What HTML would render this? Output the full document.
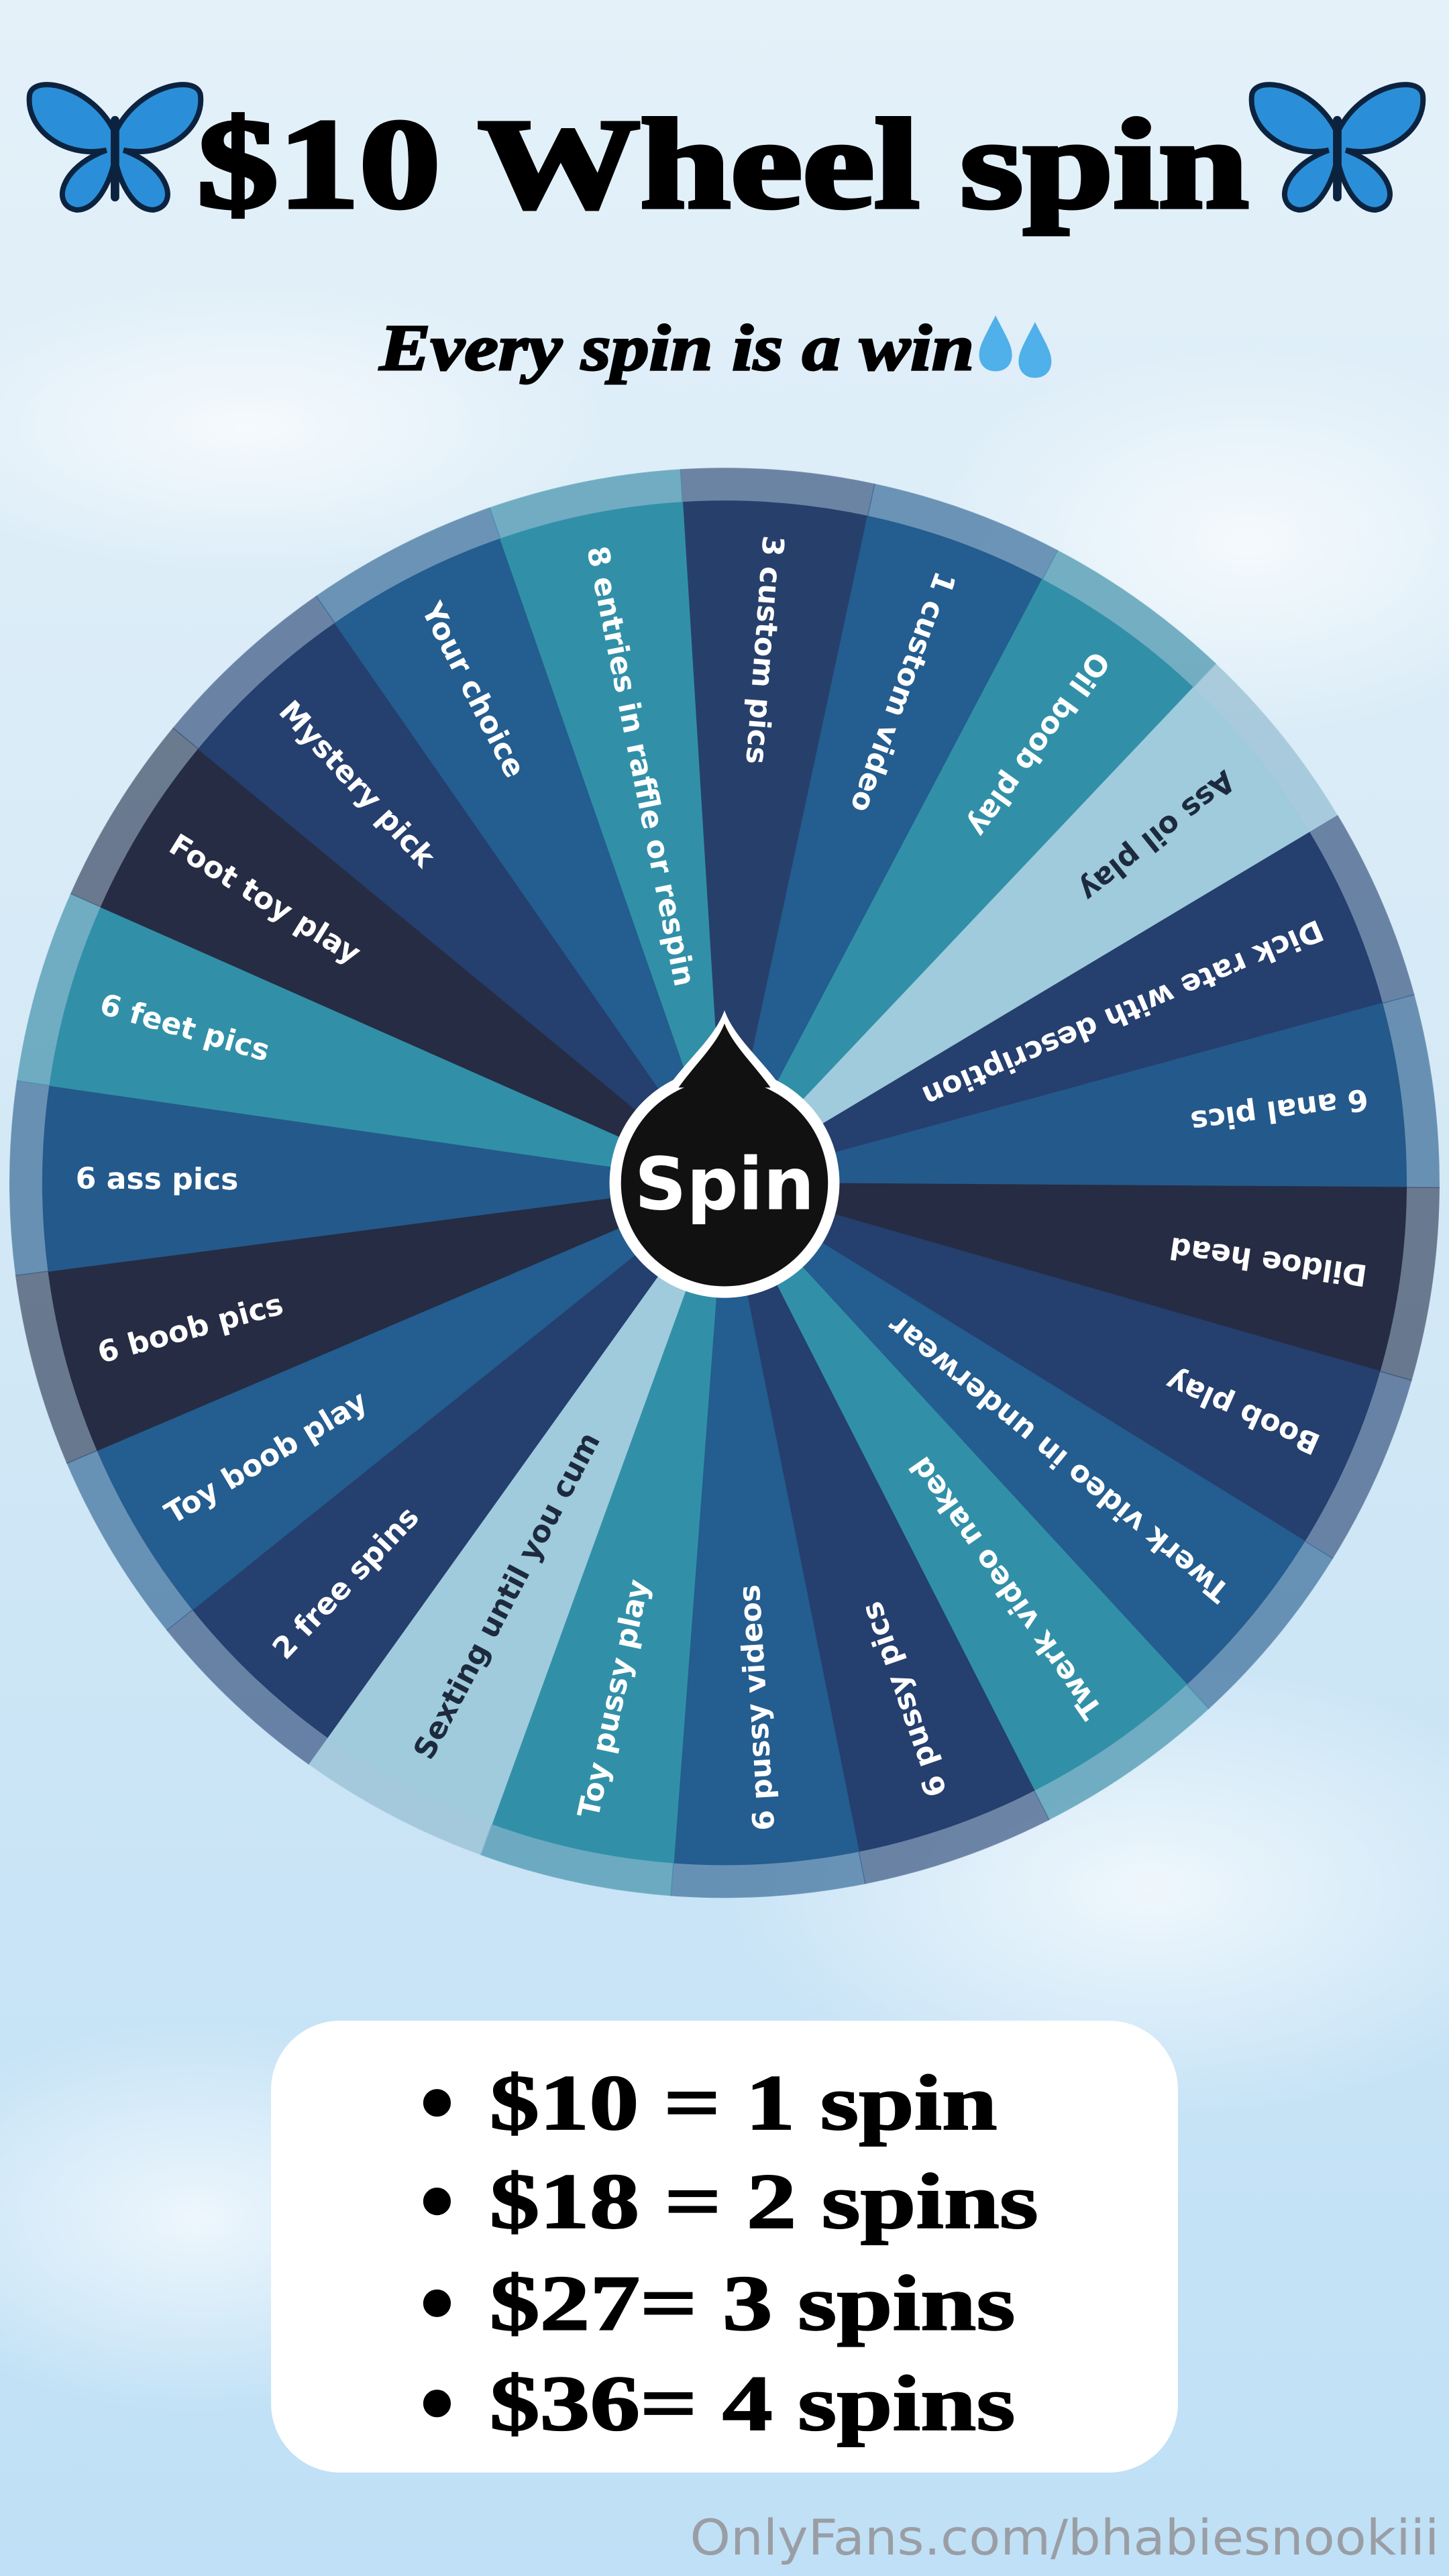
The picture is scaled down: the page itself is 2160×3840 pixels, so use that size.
<!DOCTYPE html>
<html><head><meta charset="utf-8">
<style>
html,body{margin:0;padding:0;width:2160px;height:3840px;overflow:hidden;background:#d3e9f6;}
svg{display:block}
</style></head>
<body>
<svg width="2160" height="3840" viewBox="0 0 882 1568" xmlns="http://www.w3.org/2000/svg">
<defs>
<linearGradient id="bg" x1="0" y1="0" x2="0" y2="1">
<stop offset="0" stop-color="#e4f1f9"/><stop offset="0.5" stop-color="#d2e8f6"/><stop offset="1" stop-color="#bfe0f6"/>
</linearGradient>
<radialGradient id="cl" cx="0.5" cy="0.5" r="0.5"><stop offset="0" stop-color="#fff" stop-opacity="0.7"/><stop offset="1" stop-color="#fff" stop-opacity="0"/></radialGradient>
<path id="w" d="M0 0 L-56.51 -411.14 A415 415 0 0 1 56.51 -411.14 Z"/>
<path id="r" d="M-59.23 -430.95 A435 435 0 0 1 59.23 -430.95 L56.51 -411.14 A415 415 0 0 0 -56.51 -411.14 Z"/>
<g id="bf">
<path d="M0 10 C-10 -12 -38 -18 -40 -8 C-42 8 -24 22 -4 18 C-26 26 -30 44 -18 46 C-8 46 -2 32 0 22 Z" fill="#2a8fd8" stroke="#0c2340" stroke-width="2.5"/>
<path d="M0 10 C10 -12 38 -18 40 -8 C42 8 24 22 4 18 C26 26 30 44 18 46 C8 46 2 32 0 22 Z" fill="#2a8fd8" stroke="#0c2340" stroke-width="2.5"/>
<rect x="-2" y="2" width="4" height="40" rx="2" fill="#0c2340"/>
</g>
</defs>
<rect width="882" height="1568" fill="url(#bg)"/>
<ellipse cx="150" cy="260" rx="220" ry="90" fill="url(#cl)"/>
<ellipse cx="760" cy="330" rx="200" ry="120" fill="url(#cl)"/>
<ellipse cx="700" cy="1150" rx="260" ry="140" fill="url(#cl)"/>
<ellipse cx="120" cy="1350" rx="200" ry="120" fill="url(#cl)"/>

<!-- title -->
<use href="#bf" transform="translate(70,68) scale(1.3)"/>
<use href="#bf" transform="translate(814,68) scale(1.3)"/>
<text x="120" y="126" textLength="640" lengthAdjust="spacingAndGlyphs" font-family="Liberation Serif, serif" font-weight="bold" font-size="78" fill="#000" stroke="#000" stroke-width="2.5">$10 Wheel spin</text>
<text x="231" y="225" textLength="362" lengthAdjust="spacingAndGlyphs" font-family="Liberation Serif, serif" font-weight="bold" font-style="italic" font-size="40" fill="#000" stroke="#000" stroke-width="1.2">Every spin is a win</text>
<path d="M606 192 C600 204 596 210 596 216 C596 222 600 226 606 226 C612 226 616 222 616 216 C616 210 612 204 606 192Z" fill="#4fb0ea"/>
<path d="M630 196 C624 208 620 214 620 220 C620 226 624 230 630 230 C636 230 640 226 640 220 C640 214 636 208 630 196Z" fill="#4fb0ea"/>

<!-- wheel -->
<g transform="translate(441,720)">
<circle r="435" fill="#8aa8c4" opacity="0.5"/>
<g stroke-width="0.6">
<g transform="rotate(4.3)" fill="#27406b" stroke="#27406b"><use href="#w"/><use href="#r" opacity="0.5"/></g>
<g transform="rotate(19.95)" fill="#245d8f" stroke="#245d8f"><use href="#w"/><use href="#r" opacity="0.5"/></g>
<g transform="rotate(35.6)" fill="#3190a8" stroke="#3190a8"><use href="#w"/><use href="#r" opacity="0.5"/></g>
<g transform="rotate(51.26)" fill="#9fcbdc" stroke="#9fcbdc"><use href="#w"/><use href="#r" opacity="0.5"/></g>
<g transform="rotate(66.91)" fill="#253f6e" stroke="#253f6e"><use href="#w"/><use href="#r" opacity="0.5"/></g>
<g transform="rotate(82.56)" fill="#24598b" stroke="#24598b"><use href="#w"/><use href="#r" opacity="0.5"/></g>
<g transform="rotate(98.21)" fill="#262c43" stroke="#262c43"><use href="#w"/><use href="#r" opacity="0.5"/></g>
<g transform="rotate(113.86)" fill="#253f6e" stroke="#253f6e"><use href="#w"/><use href="#r" opacity="0.5"/></g>
<g transform="rotate(129.52)" fill="#245d8f" stroke="#245d8f"><use href="#w"/><use href="#r" opacity="0.5"/></g>
<g transform="rotate(145.17)" fill="#3190a8" stroke="#3190a8"><use href="#w"/><use href="#r" opacity="0.5"/></g>
<g transform="rotate(160.82)" fill="#253f6e" stroke="#253f6e"><use href="#w"/><use href="#r" opacity="0.5"/></g>
<g transform="rotate(176.47)" fill="#245d8f" stroke="#245d8f"><use href="#w"/><use href="#r" opacity="0.5"/></g>
<g transform="rotate(192.12)" fill="#3190a8" stroke="#3190a8"><use href="#w"/><use href="#r" opacity="0.5"/></g>
<g transform="rotate(207.78)" fill="#9fcbdc" stroke="#9fcbdc"><use href="#w"/><use href="#r" opacity="0.5"/></g>
<g transform="rotate(223.43)" fill="#253f6e" stroke="#253f6e"><use href="#w"/><use href="#r" opacity="0.5"/></g>
<g transform="rotate(239.08)" fill="#245d8f" stroke="#245d8f"><use href="#w"/><use href="#r" opacity="0.5"/></g>
<g transform="rotate(254.73)" fill="#262c43" stroke="#262c43"><use href="#w"/><use href="#r" opacity="0.5"/></g>
<g transform="rotate(270.38)" fill="#24598b" stroke="#24598b"><use href="#w"/><use href="#r" opacity="0.5"/></g>
<g transform="rotate(286.04)" fill="#3190a8" stroke="#3190a8"><use href="#w"/><use href="#r" opacity="0.5"/></g>
<g transform="rotate(301.69)" fill="#262c43" stroke="#262c43"><use href="#w"/><use href="#r" opacity="0.5"/></g>
<g transform="rotate(317.34)" fill="#253f6e" stroke="#253f6e"><use href="#w"/><use href="#r" opacity="0.5"/></g>
<g transform="rotate(332.99)" fill="#245d8f" stroke="#245d8f"><use href="#w"/><use href="#r" opacity="0.5"/></g>
<g transform="rotate(348.64)" fill="#3190a8" stroke="#3190a8"><use href="#w"/><use href="#r" opacity="0.5"/></g>
</g>
<g font-family="DejaVu Sans, Liberation Sans, sans-serif" font-weight="bold" font-size="18" fill="#fff">
<text transform="rotate(94.3)" x="-395" y="6">3 custom pics</text>
<text transform="rotate(109.95)" x="-395" y="6">1 custom video</text>
<text transform="rotate(125.6)" x="-395" y="6">Oil boob play</text>
<text transform="rotate(141.26)" x="-395" y="6" fill="#1d2a3e">Ass oil play</text>
<text transform="rotate(156.91)" x="-395" y="6">Dick rate with description</text>
<text transform="rotate(172.56)" x="-395" y="6">6 anal pics</text>
<text transform="rotate(188.21)" x="-395" y="6">Dildoe head</text>
<text transform="rotate(203.86)" x="-395" y="6">Boob play</text>
<text transform="rotate(219.52)" x="-395" y="6">Twerk video in underwear</text>
<text transform="rotate(235.17)" x="-395" y="6">Twerk video naked</text>
<text transform="rotate(250.82)" x="-395" y="6">6 pussy pics</text>
<text transform="rotate(266.47)" x="-395" y="6">6 pussy videos</text>
<text transform="rotate(282.12)" x="-395" y="6">Toy pussy play</text>
<text transform="rotate(297.78)" x="-395" y="6" fill="#1d2a3e">Sexting until you cum</text>
<text transform="rotate(313.43)" x="-395" y="6">2 free spins</text>
<text transform="rotate(329.08)" x="-395" y="6">Toy boob play</text>
<text transform="rotate(344.73)" x="-395" y="6">6 boob pics</text>
<text transform="rotate(0.38)" x="-395" y="6">6 ass pics</text>
<text transform="rotate(16.04)" x="-395" y="6">6 feet pics</text>
<text transform="rotate(31.69)" x="-395" y="6">Foot toy play</text>
<text transform="rotate(47.34)" x="-395" y="6">Mystery pick</text>
<text transform="rotate(62.99)" x="-395" y="6">Your choice</text>
<text transform="rotate(78.64)" x="-395" y="6">8 entries in raffle or respin</text>
</g>
<!-- spin button -->
<path d="M0 -105 C6 -88 24 -74 36 -56 L-36 -56 C-24 -74 -6 -88 0 -105Z" fill="#fff"/>
<circle r="70" fill="#fff"/>
<path d="M0 -97 C5 -84 18 -72 28 -58 L-28 -58 C-18 -72 -5 -84 0 -97Z" fill="#111"/>
<circle r="63" fill="#111"/>
<text x="0" y="16" text-anchor="middle" font-family="DejaVu Sans, Liberation Sans, sans-serif" font-weight="bold" font-size="44" fill="#fff">Spin</text>
</g>

<!-- price box -->
<rect x="165" y="1230" width="552" height="275" rx="42" fill="#fff"/>
<g font-family="Liberation Serif, serif" font-weight="bold" font-size="48" fill="#000" stroke="#000" stroke-width="0.8">
<circle cx="266" cy="1280" r="8"/><text x="298" y="1296" textLength="309" lengthAdjust="spacingAndGlyphs">$10 = 1 spin</text>
<circle cx="266" cy="1340" r="8"/><text x="298" y="1356" textLength="334" lengthAdjust="spacingAndGlyphs">$18 = 2 spins</text>
<circle cx="266" cy="1402" r="8"/><text x="298" y="1418" textLength="320" lengthAdjust="spacingAndGlyphs">$27= 3 spins</text>
<circle cx="266" cy="1463" r="8"/><text x="298" y="1479" textLength="320" lengthAdjust="spacingAndGlyphs">$36= 4 spins</text>
</g>
<text x="420" y="1555" textLength="456" lengthAdjust="spacingAndGlyphs" font-family="DejaVu Sans, Liberation Sans, sans-serif" font-size="30" fill="#9a9ea4">OnlyFans.com/bhabiesnookiii</text>
</svg>
</body></html>
